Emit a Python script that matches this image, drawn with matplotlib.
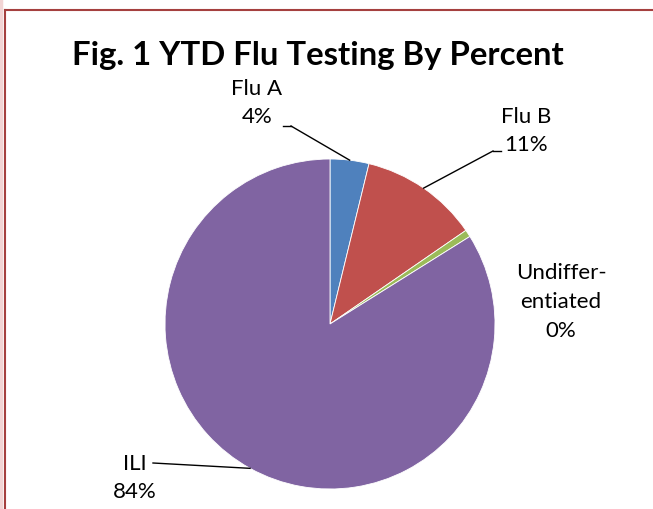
import numpy as np
import matplotlib
matplotlib.use("Agg")
import matplotlib.pyplot as plt
from matplotlib.lines import Line2D

plt.rcParams["font.family"] = ["Lato", "DejaVu Sans"]

# slice shares (percent)
categories = ["Flu A", "Flu B", "Undiffer-\nentiated", "ILI"]
shares = [3.8, 11.6, 0.7, 83.9]
pct_labels = ["4%", "11%", "0%", "84%"]
colors = ["#4F81BD", "#C0504D", "#9BBB59", "#8064A2"]

W, H = 653, 510
fig = plt.figure(figsize=(W / 100, H / 100), dpi=100)
ax = fig.add_axes([0, 0, 1, 1])

cx, cy, r = 330, 510 - 325, 165
wedges, _ = ax.pie(shares, colors=colors, startangle=90, counterclock=False,
                   center=(cx, cy), radius=r, frame=True,
                   wedgeprops=dict(edgecolor="white", linewidth=0.6))
ax.set_xlim(0, W); ax.set_ylim(0, H); ax.set_aspect("equal"); ax.axis("off")

# label text positions (pixels) and leader elbow
lab_pos = [(257, 510 - 103), (526, 510 - 131), (561, 510 - 302), (135, 510 - 478)]
elbows = [(291, 510 - 127), (493, 510 - 152), None, (153, 510 - 464)]

for w, cat, pct, pos, elb in zip(wedges, categories, pct_labels, lab_pos, elbows):
    ax.text(pos[0], pos[1], f"{cat}\n{pct}", ha="center", va="center",
            fontsize=16, linespacing=1.55, color="black")
    if elb is None:
        continue
    mid = np.deg2rad((w.theta1 + w.theta2) / 2)
    px, py = cx + r * np.cos(mid), cy + r * np.sin(mid)
    ax.plot([elb[0], px], [elb[1], py], color="black", lw=1.0)

# horizontal ticks of the leader lines
ax.plot([283, 291], [510 - 127, 510 - 127], color="black", lw=1.0)
ax.plot([493, 501], [510 - 152, 510 - 152], color="black", lw=1.0)

ax.text(318, 510 - 55, "Fig. 1 YTD Flu Testing By Percent", ha="center", va="center",
        fontsize=23.7, weight="bold")

# frame of the chart area
fig.add_artist(Line2D([5 / W, 1], [1 - 11 / H, 1 - 11 / H], color="#A5403F", lw=1.5,
                      transform=fig.transFigure))
fig.add_artist(Line2D([5 / W, 5 / W], [0, 1 - 11 / H], color="#A5403F", lw=1.5,
                      transform=fig.transFigure))
fig.add_artist(Line2D([1 / W, 1 / W], [0, 1], color="#F2D4D4", lw=2.5,
                      transform=fig.transFigure))

fig.savefig("out.png", dpi=100)
